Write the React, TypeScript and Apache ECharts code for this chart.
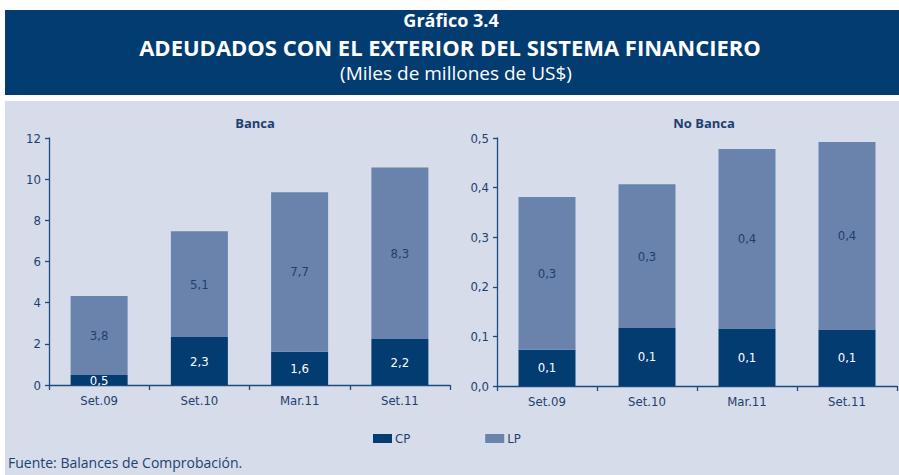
import React, { useEffect, useRef } from "react";
import * as echarts from "echarts";

const categories = ["Set.09", "Set.10", "Mar.11", "Set.11"];
const bancaCP = [0.48, 2.33, 1.62, 2.23];
const bancaLP = [3.84, 5.14, 7.74, 8.34];
const noBancaCP = [0.073, 0.117, 0.116, 0.114];
const noBancaLP = [0.308, 0.29, 0.362, 0.378];
const seriesNames = ["CP", "LP"];
const headerLines = ["Gráfico 3.4", "ADEUDADOS CON EL EXTERIOR DEL SISTEMA FINANCIERO", "(Miles de millones de US$)"];
const panelTitles = ["Banca", "No Banca"];
const sourceText = "Fuente: Balances de Comprobación.";

const NAVY = "#023C71";
const LIGHT = "#6A83AC";
const AXIS = "#1F4A80";
const TEXT = "#1E3F70";
const PANEL = "#D6DCE9";
const NARROW = "'Liberation Sans Narrow', 'DejaVu Sans Condensed', 'Roboto', sans-serif";
const HUMAN = "'Open Sans', 'Lato', sans-serif";

const fmt = (v: number) => v.toFixed(1).replace(".", ",");

export default function App() {
  const ref = useRef<HTMLDivElement>(null);
  useEffect(() => {
    const chart = echarts.init(ref.current!, null, { renderer: "svg" });
    const xAxisBase = (gridIndex: number) => ({
      type: "category" as const,
      gridIndex,
      data: categories,
      boundaryGap: true,
      axisLine: { show: true, lineStyle: { color: AXIS, width: 1.3 } },
      axisTick: { show: true, alignWithLabel: false, length: 5, lineStyle: { color: AXIS, width: 1.3 } },
      axisLabel: { color: TEXT, fontFamily: NARROW, fontSize: 13, margin: 9 },
      splitLine: { show: false },
    });
    const yAxisBase = (gridIndex: number, max: number, interval: number, dec: boolean) => ({
      type: "value" as const,
      gridIndex,
      min: 0,
      max,
      interval,
      axisLine: { show: true, lineStyle: { color: AXIS, width: 1.3 } },
      axisTick: { show: true, length: 4, lineStyle: { color: AXIS, width: 1.3 } },
      axisLabel: {
        color: TEXT,
        fontFamily: NARROW,
        fontSize: 13,
        margin: 8,
        formatter: (v: number) => (dec ? fmt(v) : String(Math.round(v))),
      },
      splitLine: { show: false },
    });
    const labelCP = {
      show: true,
      position: "inside" as const,
      color: "#FFFFFF",
      fontFamily: NARROW,
      fontSize: 13,
      formatter: (p: any) => fmt(p.value),
    };
    const labelLP = { ...labelCP, color: TEXT };
    const bar = (name: string, data: number[], idx: number, stack: string, color: string, label: any) => ({
      type: "bar" as const,
      name,
      data,
      xAxisIndex: idx,
      yAxisIndex: idx,
      stack,
      barWidth: 57,
      itemStyle: { color },
      label,
      emphasis: { disabled: true },
    });
    chart.setOption({
      animation: false,
      backgroundColor: "#FFFFFF",
      grid: [
        { left: 49, right: 449, top: 138, bottom: 90 },
        { left: 497, right: 2, top: 138, bottom: 89 },
      ],
      xAxis: [xAxisBase(0), xAxisBase(1)],
      yAxis: [yAxisBase(0, 12, 2, false), yAxisBase(1, 0.5, 0.1, true)],
      legend: {
        data: seriesNames,
        left: 373,
        top: 432,
        itemWidth: 19,
        itemHeight: 9,
        itemGap: 75,
        icon: "rect",
        textStyle: { color: TEXT, fontFamily: NARROW, fontSize: 13, padding: [0, 0, 0, -2] },
        padding: 0,
      },
      graphic: [
        { type: "rect", z: -10, shape: { x: 5, y: 10, width: 894, height: 85 }, style: { fill: NAVY } },
        { type: "rect", z: -10, shape: { x: 5, y: 101, width: 894, height: 374 }, style: { fill: PANEL } },
        {
          type: "text", x: 451, y: 20,
          style: { text: headerLines[0], fill: "#FFFFFF", font: `700 18px ${HUMAN}`, align: "center", verticalAlign: "middle" },
        },
        {
          type: "text", x: 450, y: 47,
          style: { text: headerLines[1], fill: "#FFFFFF", font: `700 22px ${HUMAN}`, align: "center", verticalAlign: "middle" },
        },
        {
          type: "text", x: 456, y: 73,
          style: { text: headerLines[2], fill: "#FFFFFF", font: `400 19px ${HUMAN}`, align: "center", verticalAlign: "middle" },
        },
        {
          type: "text", x: 255, y: 123,
          style: { text: panelTitles[0], fill: TEXT, font: `700 13px ${HUMAN}`, align: "center", verticalAlign: "middle" },
        },
        {
          type: "text", x: 704, y: 123,
          style: { text: panelTitles[1], fill: TEXT, font: `700 13px ${HUMAN}`, align: "center", verticalAlign: "middle" },
        },
        {
          type: "text", x: 8, y: 462,
          style: { text: sourceText, fill: TEXT, font: `400 14px ${HUMAN}`, align: "left", verticalAlign: "middle" },
        },
      ],
      series: [
        bar(seriesNames[0], bancaCP, 0, "banca", NAVY, labelCP),
        bar(seriesNames[1], bancaLP, 0, "banca", LIGHT, labelLP),
        bar(seriesNames[0], noBancaCP, 1, "nobanca", NAVY, labelCP),
        bar(seriesNames[1], noBancaLP, 1, "nobanca", LIGHT, labelLP),
      ],
    });
    return () => chart.dispose();
  }, []);
  return <div ref={ref} style={{ position: "absolute", left: 0, top: 0, width: 899, height: 475 }} />;
}
